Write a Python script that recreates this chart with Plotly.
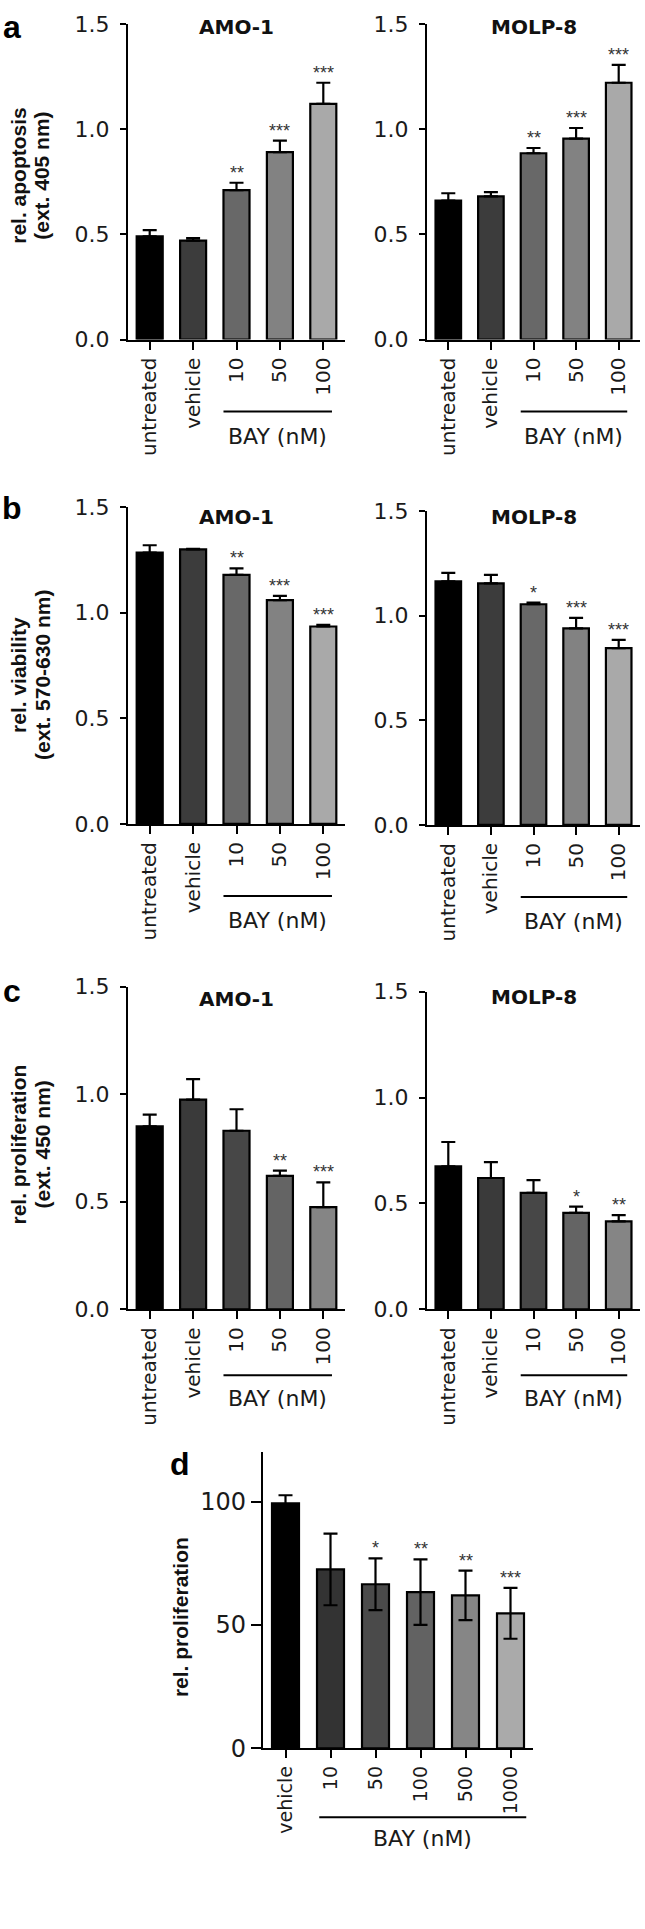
import plotly.graph_objects as go

# ---------------- data ----------------
cats_abc = ["untreated", "vehicle", "10", "50", "100"]
cats_d = ["vehicle", "10", "50", "100", "500", "1000"]

a_amo = [0.49, 0.47, 0.71, 0.89, 1.12]
a_amo_err = [0.03, 0.012, 0.035, 0.055, 0.10]
a_amo_sig = ["", "", "**", "***", "***"]

a_molp = [0.66, 0.68, 0.885, 0.955, 1.22]
a_molp_err = [0.035, 0.02, 0.025, 0.05, 0.085]
a_molp_sig = ["", "", "**", "***", "***"]

b_amo = [1.285, 1.30, 1.18, 1.06, 0.935]
b_amo_err = [0.035, 0.003, 0.03, 0.02, 0.008]
b_amo_sig = ["", "", "**", "***", "***"]

b_molp = [1.165, 1.155, 1.055, 0.94, 0.845]
b_molp_err = [0.04, 0.04, 0.008, 0.05, 0.04]
b_molp_sig = ["", "", "*", "***", "***"]

c_amo = [0.85, 0.975, 0.83, 0.62, 0.475]
c_amo_err = [0.055, 0.095, 0.10, 0.025, 0.115]
c_amo_sig = ["", "", "", "**", "***"]

c_molp = [0.675, 0.62, 0.55, 0.455, 0.415]
c_molp_err = [0.115, 0.075, 0.06, 0.03, 0.03]
c_molp_sig = ["", "", "", "*", "**"]

d_vals = [99.3, 72.5, 66.5, 63.3, 62.0, 54.7]
d_err = [3.3, 14.5, 10.5, 13.3, 10.0, 10.3]
d_sig = ["", "", "*", "**", "**", "***"]

ticks_abc = [0, 0.5, 1.0, 1.5]
ticktext_abc = ["0.0", "0.5", "1.0", "1.5"]
ticks_d = [0, 50, 100]
ticktext_d = ["0", "50", "100"]

colors_ab = ["#000000", "#3c3c3c", "#686868", "#828282", "#a9a9a9"]
colors_c = ["#000000", "#3a3a3a", "#474747", "#646464", "#858585"]
colors_d = ["#000000", "#333333", "#4a4a4a", "#626262", "#868686", "#aaaaaa"]

# ---------------- layout helpers ----------------
W, H = 645, 1929
FONT = "DejaVu Sans, Verdana, sans-serif"
FONT_B = "Liberation Sans, Arial, Helvetica, sans-serif"


def px(x):
    return x / W


def py(y):
    return 1 - y / H


panels = [
    dict(cats=cats_abc, vals=a_amo, err=a_amo_err, sig=a_amo_sig, colors=colors_ab,
         x0=128, x1=345, ytop=12, ybot=332, ymax=1.5, title="AMO-1", ty=15, sym=False),
    dict(cats=cats_abc, vals=a_molp, err=a_molp_err, sig=a_molp_sig, colors=colors_ab,
         x0=427, x1=640, ytop=12, ybot=332, ymax=1.5, title="MOLP-8", ty=15, sym=False),
    dict(cats=cats_abc, vals=b_amo, err=b_amo_err, sig=b_amo_sig, colors=colors_ab,
         x0=128, x1=345, ytop=502, ybot=823, ymax=1.5, title="AMO-1", ty=512, sym=False),
    dict(cats=cats_abc, vals=b_molp, err=b_molp_err, sig=b_molp_sig, colors=colors_ab,
         x0=427, x1=640, ytop=506, ybot=824, ymax=1.5, title="MOLP-8", ty=512, sym=False),
    dict(cats=cats_abc, vals=c_amo, err=c_amo_err, sig=c_amo_sig, colors=colors_c,
         x0=128, x1=345, ytop=988, ybot=1315, ymax=1.5, title="AMO-1", ty=1000, sym=False),
    dict(cats=cats_abc, vals=c_molp, err=c_molp_err, sig=c_molp_sig, colors=colors_c,
         x0=427, x1=640, ytop=993, ybot=1315, ymax=1.5, title="MOLP-8", ty=998, sym=False),
    dict(cats=cats_d, vals=d_vals, err=d_err, sig=d_sig, colors=colors_d,
         x0=263, x1=533, ytop=1460, ybot=1760, ymax=120, title="", ty=0, sym=True),
]

fig = go.Figure()
layout = dict(
    width=W, height=H,
    margin=dict(l=0, r=0, t=0, b=0),
    paper_bgcolor="white", plot_bgcolor="white",
    showlegend=False,
    font=dict(family=FONT, color="#1a1a1a"),
)
annotations = []
shapes = []

for i, p in enumerate(panels, start=1):
    xa = "x" if i == 1 else f"x{i}"
    ya = "y" if i == 1 else f"y{i}"
    n = len(p["cats"])
    is_d = p["sym"]
    if is_d:
        err = dict(type="data", array=p["err"], symmetric=True,
                   color="black", thickness=2.2, width=7)
    else:
        err = dict(type="data", array=p["err"], arrayminus=[0] * n, symmetric=False,
                   color="black", thickness=2.2, width=7)
    fig.add_trace(go.Bar(
        x=p["cats"], y=p["vals"], xaxis=xa, yaxis=ya,
        marker=dict(color=p["colors"], line=dict(color="black", width=2.2)),
        width=0.6, error_y=err, hoverinfo="skip",
    ))
    layout["xaxis" if i == 1 else f"xaxis{i}"] = dict(
        domain=[px(p["x0"]), px(p["x1"])], anchor=ya,
        type="category", range=[-0.5, n - 0.5],
        showline=True, linecolor="black", linewidth=2.2,
        ticks="outside", ticklen=8, tickwidth=2, tickcolor="black",
        tickangle=-90, tickfont=dict(size=19 if is_d else 20, family=FONT, color="#1a1a1a"),
        showgrid=False, zeroline=False, fixedrange=True,
    )
    layout["yaxis" if i == 1 else f"yaxis{i}"] = dict(
        domain=[py(p["ybot"]), py(p["ytop"])], anchor=xa,
        range=[0, p["ymax"]],
        tickvals=ticks_d if is_d else ticks_abc,
        ticktext=ticktext_d if is_d else ticktext_abc,
        showline=True, linecolor="black", linewidth=2.2,
        ticks="outside", ticklen=10 if is_d else 6, tickwidth=2, tickcolor="black",
        ticklabelstandoff=0 if is_d else 6,
        tickfont=dict(size=24 if is_d else 22, family=FONT, color="#1a1a1a"),
        showgrid=False, zeroline=False, fixedrange=True,
    )
    # significance stars (x given as category index)
    for j, (v, e, s) in enumerate(zip(p["vals"], p["err"], p["sig"])):
        if s:
            annotations.append(dict(
                x=j, y=v + e, xref=xa, yref=ya, text=s, showarrow=False,
                xanchor="center", yanchor="bottom", yshift=-2,
                font=dict(size=18, family=FONT_B, color="#333333"),
            ))
    # panel titles
    if p["title"]:
        annotations.append(dict(
            x=px((p["x0"] + p["x1"]) / 2), y=py(p["ty"]), xref="paper", yref="paper",
            text=f"<b>{p['title']}</b>", showarrow=False, xanchor="center", yanchor="middle",
            font=dict(size=20, family=FONT, color="#111111"),
        ))
    # BAY (nM) bracket
    if is_d:
        line_off, text_off = 70, 91
        lx0, lx1 = 0.75, 5.35
    elif p["ybot"] > 1000:
        line_off, text_off = 67, 90
        lx0, lx1 = 1.7, 4.2
    else:
        line_off, text_off = 73, 98
        lx0, lx1 = 1.7, 4.2
    shapes.append(dict(
        type="line", xref=xa, yref="paper", x0=lx0, x1=lx1,
        y0=py(p["ybot"] + line_off), y1=py(p["ybot"] + line_off),
        line=dict(color="black", width=2),
    ))
    annotations.append(dict(
        x=(lx0 + lx1) / 2, y=py(p["ybot"] + text_off), xref=xa, yref="paper",
        text="BAY (nM)", showarrow=False, xanchor="center", yanchor="middle",
        font=dict(size=22, family=FONT, color="#1a1a1a"),
    ))

# panel letters
for letter, x, y in [("a", 12, 15), ("b", 12, 503), ("c", 12, 992), ("d", 180, 1472)]:
    annotations.append(dict(
        x=px(x), y=py(y), xref="paper", yref="paper", text=f"<b>{letter}</b>",
        showarrow=False, xanchor="center", yanchor="middle",
        font=dict(size=32, family=FONT_B, color="black"),
    ))

# y-axis titles
ytitles = [
    ("rel. apoptosis", 19, 166), ("(ext. 405 nm)", 42, 166),
    ("rel. viability", 19, 672), ("(ext. 570-630 nm)", 43, 672),
    ("rel. proliferation", 19, 1148), ("(ext. 450 nm)", 43, 1148),
    ("rel. proliferation", 180, 1627),
]
for t, x, y in ytitles:
    annotations.append(dict(
        x=px(x), y=py(y), xref="paper", yref="paper", text=f"<b>{t}</b>",
        showarrow=False, textangle=-90, xanchor="center", yanchor="middle",
        font=dict(size=21, family=FONT_B, color="#111111"),
    ))

layout["annotations"] = annotations
layout["shapes"] = shapes
fig.update_layout(**layout)

fig.write_html("out.html", post_script="document.body.style.margin='0px';",
               config={"displayModeBar": False})
